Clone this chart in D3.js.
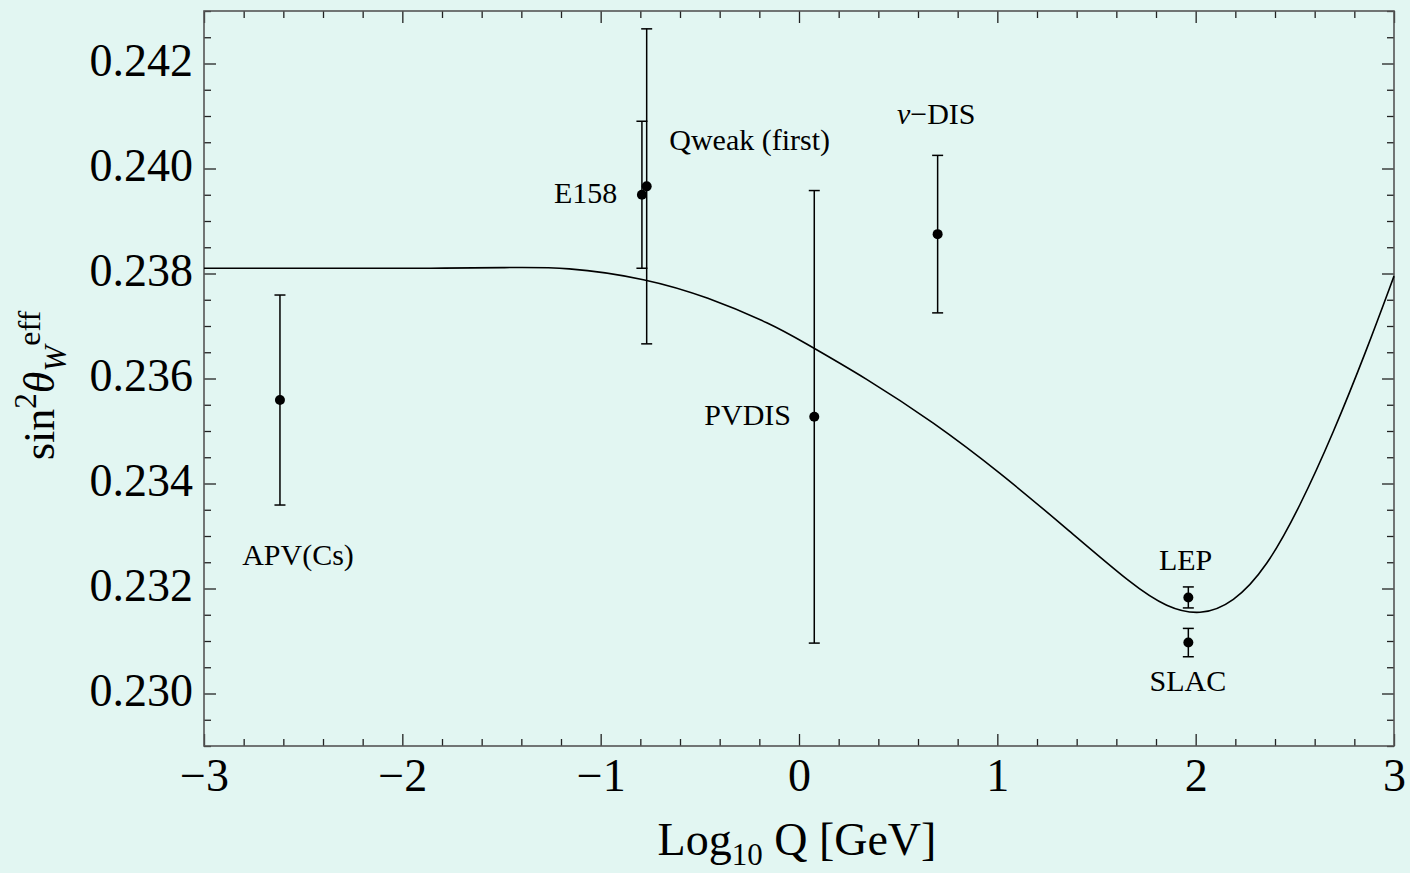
<!DOCTYPE html>
<html>
<head>
<meta charset="utf-8">
<script src="https://cdn.jsdelivr.net/npm/d3@7"></script>
<style>
  body { margin: 0; background: #e2f6f2; }
  svg { display: block; }
  text { font-family: "Liberation Serif", "DejaVu Serif", serif; fill: #000; }
  .axis path { display: none; }
  .axis line { stroke: #222; stroke-width: 1.3; }
</style>
</head>
<body>
<svg id="chart" width="1410" height="873"></svg>
<script>
// measurements
var names = ["APV(Cs)", "E158", "Qweak (first)", "PVDIS", "ν-DIS", "LEP", "SLAC"];
var logQ  = [-2.617, -0.792, -0.768, 0.077, 0.699, 1.963, 1.963];
var s2w   = [0.23559, 0.23950, 0.23966, 0.23527, 0.23875, 0.23183, 0.23097];
var err   = [0.0020, 0.0014, 0.0030, 0.00431, 0.0015, 0.0002, 0.00027];

// label anchors, in data coordinates
var labelX = [-2.526, -0.916, -0.654, -0.040, 0.692, 1.949, 1.961];
var labelY = [0.23245, 0.23935, 0.24035, 0.23511, 0.24084, 0.23235, 0.23005];
var labelAnchor = ["middle", "end", "start", "end", "middle", "middle", "middle"];

// running of sin^2 theta_W (SM curve)
var curveX = [-3, -2.5, -2, -1.81, -1.5, -1.171, -0.768, -0.465, -0.129, 0.005, 0.341,
              0.677, 1.013, 1.350, 1.686, 1.854, 2.022, 2.190, 2.358, 2.526, 2.694, 2.862, 3.0];
var curveY = [0.23810, 0.23810, 0.23810, 0.23810, 0.23811, 0.23813, 0.23790, 0.23756, 0.23702,
              0.23673, 0.23600, 0.23517, 0.23421, 0.23314, 0.23205, 0.23164, 0.23148, 0.23172,
              0.23240, 0.23356, 0.23496, 0.23654, 0.23795];

var xTicks = [-3, -2, -1, 0, 1, 2, 3];
var yTicks = [0.230, 0.232, 0.234, 0.236, 0.238, 0.240, 0.242];

var plotL = 204, plotR = 1394, plotT = 11, plotB = 746;
var svg = d3.select("#chart");

var x = d3.scaleLinear().domain([-3, 3]).range([plotL, plotR]);
var y = d3.scaleLinear().domain([0.229, 0.243]).range([plotB, plotT]);

svg.append("rect")
    .attr("width", 1410).attr("height", 873)
    .attr("fill", "#e2f6f2");

// minor ticks: every 0.2 in x, every 0.0005 in y
var xMinor = d3.range(-30, 31, 2).filter(function(k) { return k % 10 != 0; })
    .map(function(k) { return k / 10; });
var yMinor = d3.range(2290, 2431, 5).filter(function(k) { return k % 20 != 0; })
    .map(function(k) { return k / 10000; });

var fmtY = d3.format(".3f");

// bottom
svg.append("g").attr("class", "axis").attr("transform", "translate(0," + plotB + ")")
    .call(d3.axisBottom(x).tickValues(xTicks).tickSizeInner(-12).tickSizeOuter(0)
        .tickPadding(12).tickFormat(d3.format("d")))
    .selectAll("text").attr("font-size", 46).attr("font-family", "Liberation Serif");
svg.append("g").attr("class", "axis").attr("transform", "translate(0," + plotB + ")")
    .call(d3.axisBottom(x).tickValues(xMinor).tickSizeInner(-7).tickSizeOuter(0).tickFormat(""));
// top
svg.append("g").attr("class", "axis").attr("transform", "translate(0," + plotT + ")")
    .call(d3.axisTop(x).tickValues(xTicks).tickSizeInner(-12).tickSizeOuter(0).tickFormat(""));
svg.append("g").attr("class", "axis").attr("transform", "translate(0," + plotT + ")")
    .call(d3.axisTop(x).tickValues(xMinor).tickSizeInner(-7).tickSizeOuter(0).tickFormat(""));
// left
svg.append("g").attr("class", "axis").attr("transform", "translate(" + plotL + ",0)")
    .call(d3.axisLeft(y).tickValues(yTicks).tickSizeInner(-12).tickSizeOuter(0)
        .tickPadding(11).tickFormat(fmtY))
    .selectAll("text").attr("font-size", 46).attr("dy", "0.26em")
    .attr("font-family", "Liberation Serif");
svg.append("g").attr("class", "axis").attr("transform", "translate(" + plotL + ",0)")
    .call(d3.axisLeft(y).tickValues(yMinor).tickSizeInner(-7).tickSizeOuter(0).tickFormat(""));
// right
svg.append("g").attr("class", "axis").attr("transform", "translate(" + plotR + ",0)")
    .call(d3.axisRight(y).tickValues(yTicks).tickSizeInner(-12).tickSizeOuter(0).tickFormat(""));
svg.append("g").attr("class", "axis").attr("transform", "translate(" + plotR + ",0)")
    .call(d3.axisRight(y).tickValues(yMinor).tickSizeInner(-7).tickSizeOuter(0).tickFormat(""));

// frame
svg.append("rect")
    .attr("x", plotL).attr("y", plotT)
    .attr("width", plotR - plotL).attr("height", plotB - plotT)
    .attr("fill", "none").attr("stroke", "#555").attr("stroke-width", 1.6);

// SM curve
var line = d3.line()
    .x(function(d) { return x(d[0]); })
    .y(function(d) { return y(d[1]); })
    .curve(d3.curveBasis);
svg.append("path")
    .datum(d3.zip(curveX, curveY))
    .attr("d", line)
    .attr("fill", "none").attr("stroke", "#000").attr("stroke-width", 1.6);

// error bars + points
var pts = names.map(function(n, i) {
    return { name: n, x: logQ[i], y: s2w[i], e: err[i] };
});
var g = svg.append("g");
var bars = g.selectAll(".ebar").data(pts).enter().append("g").attr("class", "ebar");
bars.append("line")
    .attr("x1", function(d) { return x(d.x); }).attr("x2", function(d) { return x(d.x); })
    .attr("y1", function(d) { return y(d.y + d.e); }).attr("y2", function(d) { return y(d.y - d.e); })
    .attr("stroke", "#000").attr("stroke-width", 1.5);
[1, -1].forEach(function(s) {
    bars.append("line")
        .attr("x1", function(d) { return x(d.x) - 5.5; }).attr("x2", function(d) { return x(d.x) + 5.5; })
        .attr("y1", function(d) { return y(d.y + s * d.e); }).attr("y2", function(d) { return y(d.y + s * d.e); })
        .attr("stroke", "#000").attr("stroke-width", 1.5);
});
bars.append("circle")
    .attr("cx", function(d) { return x(d.x); })
    .attr("cy", function(d) { return y(d.y); })
    .attr("r", 5).attr("fill", "#000");

// labels
names.forEach(function(n, i) {
    var t = svg.append("text")
        .attr("x", x(labelX[i])).attr("y", y(labelY[i]))
        .attr("text-anchor", labelAnchor[i])
        .attr("font-size", 30);
    if (n.indexOf("ν") == 0) {
        t.append("tspan").attr("font-style", "italic").text("ν");
        t.append("tspan").text("\u2212DIS");
    } else {
        t.text(n);
    }
});

// x title
var xt = svg.append("text")
    .attr("x", 797).attr("y", 855)
    .attr("text-anchor", "middle").attr("font-size", 46);
xt.append("tspan").text("Log");
xt.append("tspan").attr("font-size", 31).attr("dy", 10).text("10");
xt.append("tspan").attr("dy", -10).text(" Q [GeV]");

// y title
var yt = svg.append("text")
    .attr("transform", "translate(54,460) rotate(-90)")
    .attr("font-size", 44);
yt.append("tspan").text("sin");
yt.append("tspan").attr("font-size", 31).attr("dy", -18).text("2");
yt.append("tspan").attr("font-style", "italic").attr("dy", 18).text("θ");
yt.append("tspan").attr("font-style", "italic").attr("font-size", 31).attr("dy", 12).text("W");
yt.append("tspan").attr("font-size", 32).attr("dy", -26).text("eff");
</script>
</body>
</html>
